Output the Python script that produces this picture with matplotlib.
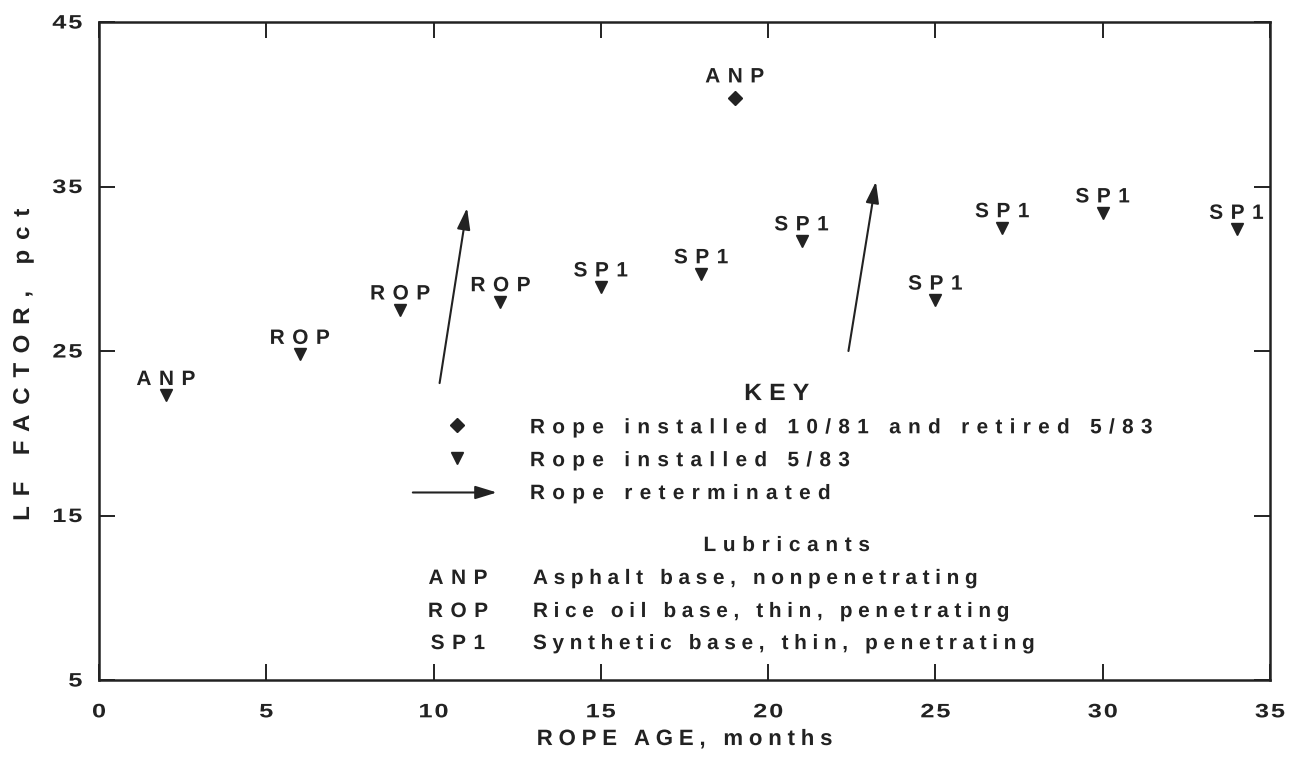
import numpy as np
import matplotlib
matplotlib.use("Agg")
import matplotlib.pyplot as plt
from matplotlib.path import Path
from matplotlib.patheffects import AbstractPathEffect

# ---------------- data ----------------
ages = [2, 6, 9, 12, 15, 18, 21, 25, 27, 30, 34]
lf_factor = [22.3, 24.8, 27.5, 28.0, 28.9, 29.7, 31.7, 28.1, 32.5, 33.4, 32.4]
lubricant = ["ANP", "ROP", "ROP", "ROP", "SP1", "SP1", "SP1", "SP1", "SP1", "SP1", "SP1"]

retired_age = [19]
retired_lf = [40.4]
retired_lube = ["ANP"]

# retermination arrows (tail -> head)
reterm_x0 = [10.18, 22.40]
reterm_y0 = [23.05, 25.00]
reterm_x1 = [11.00, 23.22]
reterm_y1 = [33.70, 35.30]

x_ticks = [0, 5, 10, 15, 20, 25, 30, 35]
y_ticks = [5, 15, 25, 35, 45]

key_title = "KEY"
key_entries = ["Rope installed 10/81 and retired 5/83", "Rope installed 5/83", "Rope reterminated"]
lube_title = "Lubricants"
lube_codes = ["ANP", "ROP", "SP1"]
lube_desc = ["Asphalt base, nonpenetrating", "Rice oil base, thin, penetrating",
             "Synthetic base, thin, penetrating"]

INK = "#222222"
FONT = "Liberation Sans"
W = "bold"


class Spaced(AbstractPathEffect):
    """Letter-spacing / horizontal stretch for text drawn as paths."""

    def __init__(self, track=0.0, sx=1.0, align="center", word=1.0):
        super().__init__()
        self.track = track * 100.0
        self.sx = sx
        self.align = align
        self.word = word

    def draw_path(self, renderer, gc, tpath, affine, rgbFace=None):
        verts = np.array(tpath.vertices, dtype=float)
        codes = tpath.codes
        if codes is None or len(verts) == 0:
            renderer.draw_path(gc, tpath, affine, rgbFace)
            return
        codes = np.asarray(codes)
        starts = np.flatnonzero(codes == Path.MOVETO)
        if len(starts) == 0:
            renderer.draw_path(gc, tpath, affine, rgbFace)
            return
        ends = list(starts[1:]) + [len(codes)]
        cont = []
        for a, b in zip(starts, ends):
            m = codes[a:b] != Path.CLOSEPOLY
            xs = verts[a:b][m, 0]
            if len(xs) == 0:
                continue
            cont.append([xs.min(), xs.max(), a, b])
        cont.sort(key=lambda c: c[0])
        groups = []
        for c in cont:
            if groups and c[0] < groups[-1]["x1"] - 0.5:
                g = groups[-1]
                g["x1"] = max(g["x1"], c[1])
                g["idx"].append((c[2], c[3]))
            else:
                groups.append({"x0": c[0], "x1": c[1], "idx": [(c[2], c[3])]})
        new = verts.copy()
        new[:, 0] *= self.sx
        shift = 0.0
        for k, g in enumerate(groups):
            if k > 0:
                gap = g["x0"] - groups[k - 1]["x1"]
                shift += self.track * (1 + (self.word if gap > 24 else 0))
            for a, b in g["idx"]:
                new[a:b, 0] += shift
        x0 = groups[0]["x0"]
        x1 = max(g["x1"] for g in groups)
        nx0 = x0 * self.sx
        nx1 = x1 * self.sx + shift
        if self.align == "left":
            off = x0 - nx0
        elif self.align == "right":
            off = x1 - nx1
        else:
            off = (x0 + x1) / 2 - (nx0 + nx1) / 2
        new[:, 0] += off
        renderer.draw_path(gc, Path(new, codes), affine, rgbFace)


plt.rcParams["font.family"] = [FONT, "DejaVu Sans"]
plt.rcParams["font.weight"] = W

fig = plt.figure(figsize=(12.99, 7.57), dpi=100)
ax = fig.add_axes([0.0762, 0.1017, 0.9015, 0.8692])
ax.set_xlim(0, 35)
ax.set_ylim(5, 45)

for s in ax.spines.values():
    s.set_linewidth(1.8)
    s.set_color(INK)

ax.set_xticks(x_ticks)
ax.set_yticks(y_ticks)
ax.tick_params(axis="both", which="major", direction="in", length=11.5, width=1.4,
               color=INK, top=True, right=True, labelsize=14, labelcolor=INK)
ax.tick_params(axis="x", pad=17.5)
ax.tick_params(axis="y", pad=12)

for t in ax.xaxis.get_major_ticks():
    t.label1.set_fontweight(W)
    t.label1.set_path_effects([Spaced(track=0.1, sx=1.3, align="center")])
for t in ax.yaxis.get_major_ticks():
    t.label1.set_fontweight(W)
    t.label1.set_path_effects([Spaced(track=0.1, sx=1.3, align="right")])

# data points
ax.plot(ages, lf_factor, linestyle="none", marker="v", markersize=8.5, color=INK)
ax.plot(retired_age, retired_lf, linestyle="none", marker="D", markersize=7.5, color=INK)

pe_lbl = [Spaced(track=0.36, sx=1.0, align="center")]
for x, y, s in zip(ages, lf_factor, lubricant):
    ax.annotate(s, (x, y), xytext=(0, 7.5), textcoords="offset points", ha="center",
                va="baseline", fontsize=15, fontweight=W, color=INK, path_effects=pe_lbl)
for x, y, s in zip(retired_age, retired_lf, retired_lube):
    ax.annotate(s, (x, y), xytext=(0, 11), textcoords="offset points", ha="center",
                va="baseline", fontsize=15, fontweight=W, color=INK, path_effects=pe_lbl)

arrow_style = dict(arrowstyle="-|>,head_length=0.65,head_width=0.2", lw=1.5, color=INK,
                   mutation_scale=20, shrinkA=0, shrinkB=0)
for xa, ya, xb, yb in zip(reterm_x0, reterm_y0, reterm_x1, reterm_y1):
    ax.annotate("", xy=(xb, yb), xytext=(xa, ya), arrowprops=arrow_style)

# ---- key ----
ax.text(20.26, 22.02, key_title, ha="center", va="baseline", fontsize=17, fontweight=W,
        color=INK, path_effects=[Spaced(track=0.3, sx=1.05, align="center")])
ax.plot([10.70], [20.5], marker="D", markersize=7.5, color=INK, linestyle="none")
ax.plot([10.70], [18.5], marker="v", markersize=8.5, color=INK, linestyle="none")
ax.annotate("", xy=(11.89, 16.4), xytext=(9.38, 16.4), arrowprops=arrow_style)
pe_key = [Spaced(track=0.35, sx=1.0, align="left")]
for yv, s in zip([20.0, 18.0, 16.0], key_entries):
    ax.text(12.88, yv, s, ha="left", va="baseline", fontsize=15, fontweight=W, color=INK,
            path_effects=pe_key)

ax.text(20.56, 12.84, lube_title, ha="center", va="baseline", fontsize=15, fontweight=W,
        color=INK, path_effects=[Spaced(track=0.32, sx=1.0, align="center")])
pe_desc = [Spaced(track=0.27, sx=1.0, align="left")]
for yv, c, d in zip([10.84, 8.83, 6.88], lube_codes, lube_desc):
    ax.text(10.73, yv, c, ha="center", va="baseline", fontsize=15, fontweight=W, color=INK,
            path_effects=pe_lbl)
    ax.text(12.97, yv, d, ha="left", va="baseline", fontsize=15, fontweight=W, color=INK,
            path_effects=pe_desc)

# axis labels
ax.set_xlabel("ROPE AGE, months", fontsize=16, fontweight=W, color=INK, ha="center",
              va="baseline", path_effects=[Spaced(track=0.26, sx=1.0, align="center")])
ax.xaxis.set_label_coords(0.5, -0.0988)
ax.set_ylabel("LF FACTOR, pct", fontsize=16.5, fontweight=W, color=INK, ha="center",
              va="center", path_effects=[Spaced(track=0.43, sx=1.05, align="center")])
ax.yaxis.set_label_coords(-0.0653, 0.479)

fig.savefig("out.png", dpi=100, facecolor="white")
